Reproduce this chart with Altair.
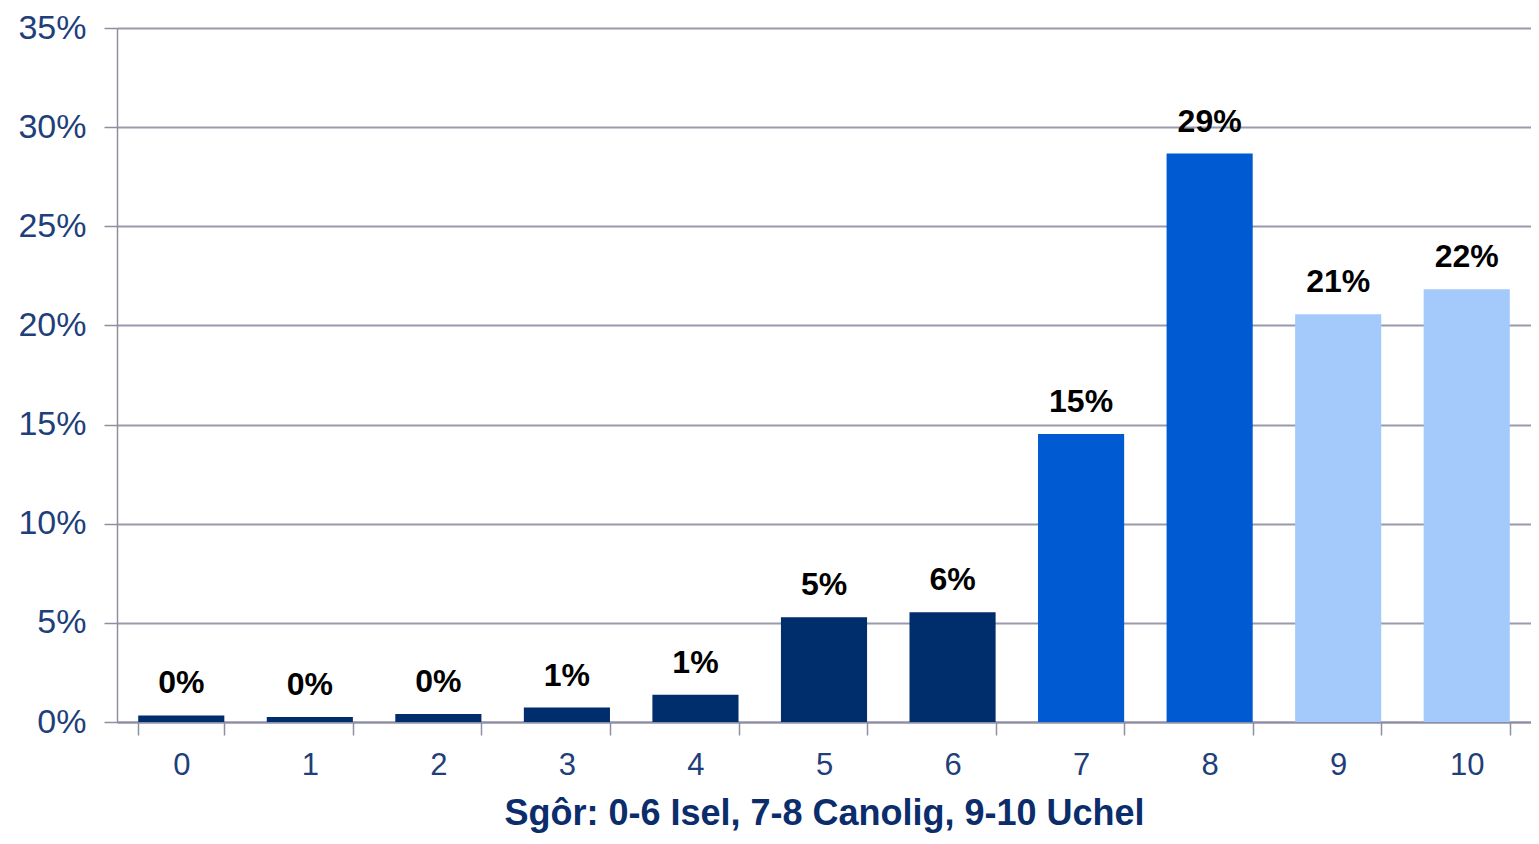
import altair as alt
import pandas as pd

scores = ["0", "1", "2", "3", "4", "5", "6", "7", "8", "9", "10"]
shares = [0.0033, 0.0025, 0.0040, 0.0073, 0.0137, 0.0528, 0.0554, 0.1452, 0.2867, 0.2056, 0.2182]
labels = ["0%", "0%", "0%", "1%", "1%", "5%", "6%", "15%", "29%", "21%", "22%"]
groups = ["Isel"] * 7 + ["Canolig"] * 2 + ["Uchel"] * 2

group_names = ["Isel", "Canolig", "Uchel"]
group_colors = ["#002D6B", "#005AD2", "#A4CAFB"]

df = pd.DataFrame({"score": scores, "share": shares, "label": labels, "group": groups})

x_enc = alt.X(
    "score:N",
    sort=scores,
    title="Sgôr: 0-6 Isel, 7-8 Canolig, 9-10 Uchel",
    scale=alt.Scale(paddingInner=0.33, paddingOuter=0.165),
    axis=alt.Axis(
        labelAngle=0,
        labelFont="Liberation Sans",
        labelFontSize=31,
        labelColor="#1F3F7A",
        labelPadding=15,
        tickBand="extent",
        tickSize=13,
        tickColor="#8E8EA3",
        tickWidth=1.5,
        domainColor="#8E8EA3",
        domainWidth=2,
        grid=False,
        titleFont="Liberation Sans",
        titleFontSize=36,
        titleFontWeight="bold",
        titleColor="#0B2D6B",
        titlePadding=16,
    ),
)

y_enc = alt.Y(
    "share:Q",
    scale=alt.Scale(domain=[0, 0.35], nice=False),
    axis=alt.Axis(
        values=[0, 0.05, 0.10, 0.15, 0.20, 0.25, 0.30, 0.35],
        format=".0%",
        title=None,
        labelFont="Liberation Sans",
        labelFontSize=34,
        labelColor="#1F3F7A",
        labelPadding=18,
        tickSize=13,
        tickColor="#8E8EA3",
        tickWidth=1.5,
        domainColor="#8E8EA3",
        domainWidth=1.5,
        grid=True,
        gridColor="#9A9AAE",
        gridWidth=1.8,
    ),
)

bars = alt.Chart(df).mark_bar().encode(
    x=x_enc,
    y=y_enc,
    color=alt.Color(
        "group:N",
        scale=alt.Scale(domain=group_names, range=group_colors),
        legend=None,
    ),
)

text = alt.Chart(df).mark_text(
    font="Liberation Sans",
    fontSize=32,
    fontWeight="bold",
    color="#000000",
    baseline="alphabetic",
    dy=-22,
).encode(
    x=alt.X("score:N", sort=scores),
    y=alt.Y("share:Q"),
    text="label:N",
)

chart = (
    alt.layer(bars, text)
    .properties(
        width=1414,
        height=694,
        autosize=alt.AutoSizeParams(type="none"),
        padding={"left": 109, "top": 20, "right": 0, "bottom": 114},
    )
    .configure_view(stroke=None)
    .configure(background="white")
)

chart.save("out.html", embed_options={"renderer": "svg", "actions": False})
